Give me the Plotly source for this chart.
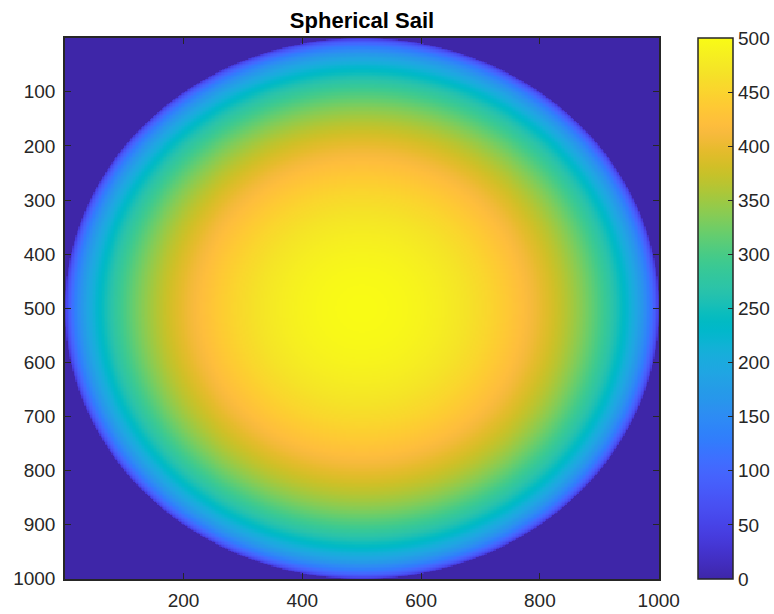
import numpy as np
import plotly.graph_objects as go

# ---- values ----
title_text = "Spherical Sail"
sail_radius = 500.0          # radius of the sail disc (pixels)
sail_center_x = 500.5
sail_center_y = 500.5
grid_size = 1000             # image is 1000 x 1000
x_ticks = [200, 400, 600, 800, 1000]
y_ticks = [100, 200, 300, 400, 500, 600, 700, 800, 900, 1000]
cbar_ticks = [0, 50, 100, 150, 200, 250, 300, 350, 400, 450, 500]
z_min, z_max = 0, 500

# MATLAB parula colormap (64 entries)
parula = [
    [0.2422, 0.1504, 0.6603], [0.2504, 0.1650, 0.7076], [0.2578, 0.1818, 0.7511], [0.2647, 0.1978, 0.7952],
    [0.2706, 0.2147, 0.8364], [0.2751, 0.2342, 0.8710], [0.2783, 0.2559, 0.8991], [0.2803, 0.2782, 0.9221],
    [0.2813, 0.3006, 0.9414], [0.2810, 0.3228, 0.9579], [0.2795, 0.3447, 0.9717], [0.2760, 0.3667, 0.9829],
    [0.2699, 0.3892, 0.9906], [0.2602, 0.4123, 0.9952], [0.2440, 0.4358, 0.9988], [0.2206, 0.4603, 0.9973],
    [0.1963, 0.4847, 0.9892], [0.1834, 0.5074, 0.9798], [0.1786, 0.5289, 0.9682], [0.1764, 0.5499, 0.9520],
    [0.1687, 0.5703, 0.9359], [0.1540, 0.5902, 0.9218], [0.1460, 0.6091, 0.9079], [0.1380, 0.6276, 0.8973],
    [0.1248, 0.6459, 0.8883], [0.1113, 0.6635, 0.8763], [0.0952, 0.6798, 0.8598], [0.0689, 0.6948, 0.8394],
    [0.0297, 0.7082, 0.8163], [0.0036, 0.7203, 0.7917], [0.0067, 0.7312, 0.7660], [0.0433, 0.7411, 0.7394],
    [0.0964, 0.7500, 0.7120], [0.1408, 0.7584, 0.6842], [0.1717, 0.7670, 0.6554], [0.1938, 0.7758, 0.6251],
    [0.2161, 0.7843, 0.5923], [0.2470, 0.7918, 0.5567], [0.2906, 0.7973, 0.5188], [0.3406, 0.8008, 0.4789],
    [0.3909, 0.8029, 0.4354], [0.4456, 0.8024, 0.3909], [0.5044, 0.7993, 0.3480], [0.5616, 0.7942, 0.3045],
    [0.6174, 0.7876, 0.2612], [0.6720, 0.7793, 0.2227], [0.7242, 0.7698, 0.1910], [0.7738, 0.7598, 0.1646],
    [0.8203, 0.7498, 0.1535], [0.8634, 0.7406, 0.1596], [0.9035, 0.7330, 0.1774], [0.9393, 0.7288, 0.2100],
    [0.9728, 0.7298, 0.2394], [0.9956, 0.7434, 0.2371], [0.9970, 0.7659, 0.2199], [0.9952, 0.7893, 0.2028],
    [0.9892, 0.8136, 0.1885], [0.9786, 0.8386, 0.1766], [0.9676, 0.8639, 0.1643], [0.9610, 0.8890, 0.1537],
    [0.9597, 0.9135, 0.1423], [0.9628, 0.9373, 0.1265], [0.9691, 0.9606, 0.1064], [0.9769, 0.9839, 0.0805],
]
n = len(parula)
colorscale = [[i / (n - 1), "rgb(%d,%d,%d)" % tuple(int(round(c * 255)) for c in rgb)]
              for i, rgb in enumerate(parula)]

# spherical cap height over the grid (0 outside the disc)
step = 2.5
centers = np.arange(0.5 + step / 2, grid_size + 0.5, step)
X, Y = np.meshgrid(centers, centers)
r2 = (X - sail_center_x) ** 2 + (Y - sail_center_y) ** 2
Z = np.sqrt(np.clip(sail_radius ** 2 - r2, 0, None))
Z = np.round(Z, 1)

ink = "#262626"
font = "Liberation Sans, Arial, sans-serif"
tick_size = 19

fig = go.Figure(go.Heatmap(
    x=centers, y=centers, z=Z,
    colorscale=colorscale, zmin=z_min, zmax=z_max, zsmooth=False,
    hoverinfo="skip",
    colorbar=dict(
        x=(698 - 65) / 594, xanchor="left", xpad=0, ypad=0,
        y=0.5, yanchor="middle", len=1, lenmode="fraction",
        thickness=35, thicknessmode="pixels",
        outlinecolor=ink, outlinewidth=1.5,
        tickvals=cbar_ticks, ticks="inside", ticklen=5, tickcolor=ink, tickwidth=1.2,
        tickfont=dict(family=font, size=tick_size, color=ink),
    ),
))

fig.update_layout(
    width=774, height=614,
    margin=dict(l=65, r=115, t=38, b=35, autoexpand=False),
    paper_bgcolor="white", plot_bgcolor="white",
    title=dict(text="<b>" + title_text + "</b>", x=(65 + 659) / 2 / 774, xanchor="center",
               y=1 - 20 / 614, yanchor="middle",
               font=dict(family=font, size=22, color="black")),
    xaxis=dict(range=[0.5, grid_size + 0.5], tickvals=x_ticks, ticks="inside", ticklen=6,
               tickcolor=ink, tickwidth=1.2, showline=True, linecolor=ink, linewidth=1.5,
               mirror="ticks", showgrid=False, zeroline=False, ticklabelstandoff=3,
               tickfont=dict(family=font, size=tick_size, color=ink)),
    yaxis=dict(range=[grid_size + 0.5, 0.5], tickvals=y_ticks, ticks="inside", ticklen=6,
               tickcolor=ink, tickwidth=1.2, showline=True, linecolor=ink, linewidth=1.5,
               mirror="ticks", showgrid=False, zeroline=False, ticklabelstandoff=4,
               tickfont=dict(family=font, size=tick_size, color=ink)),
)

fig.write_html("out.html")
